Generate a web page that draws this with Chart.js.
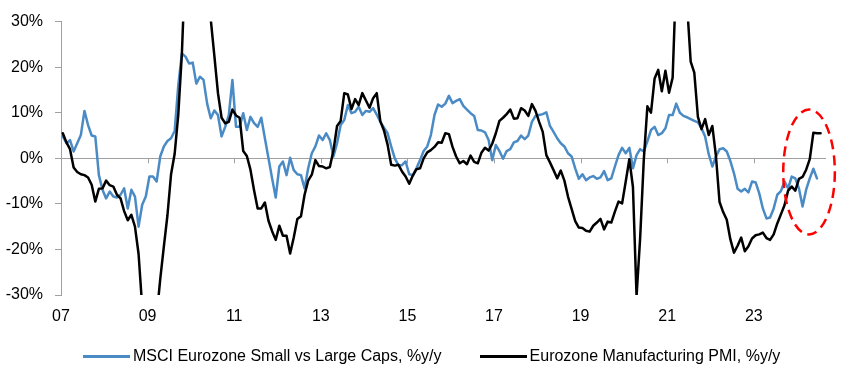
<!DOCTYPE html>
<html>
<head>
<meta charset="utf-8">
<script src="https://cdn.jsdelivr.net/npm/chart.js@4.4.1/dist/chart.umd.min.js"></script>
<style>
  html, body { margin: 0; padding: 0; background: #fff; }
  #wrap { position: relative; width: 852px; height: 389px; }
  #chart { display: block; }
  #legend { position: absolute; left: 83px; top: 345px; height: 22px; display: flex; align-items: center;
            font: 16px "Liberation Sans", Arial, sans-serif; color: #000; white-space: nowrap; }
  .item { display: flex; align-items: center; }
  .item + .item { margin-left: 38px; }
  .swatch { width: 47px; height: 3px; margin-right: 3px; }
</style>
</head>
<body>
<div id="wrap">
  <canvas id="chart" width="852" height="389"></canvas>
  <div id="legend"></div>
</div>
<script>
// monthly, Jan 2007 onwards (% y/y)
const seriesNames = ['MSCI Eurozone Small vs Large Caps, %y/y', 'Eurozone Manufacturing PMI, %y/y'];

const smallVsLarge = [
  4.8, 3.3, 4.0, 1.5, 3.3, 5.1, 10.4, 7.3, 5.0, 4.8, -3.7, -6.9,          // 2007
  -8.8, -7.3, -8.4, -8.6, -8, -6.6, -11, -6.9, -8.4, -15, -10.2, -8.4,    // 2008
  -4, -4, -5.1, 0.4, 2.6, 3.8, 4.4, 6, 16, 23, 22.3, 20.8,                // 2009
  21, 16.4, 17.9, 17.2, 12, 8.8, 10.5, 9.5, 4.8, 6.9, 9.5, 17.2,          // 2010
  6.9, 6.9, 9.9, 6.2, 9.1, 7.7, 6.9, 8.9, 4.4, 0, -4.4, -8.6,             // 2011
  -1.8, -0.7, -3.7, 0.1, -2.6, -3.5, -3.7, -6.6, -2.2, 1.1, 2.6, 5,       // 2012
  4, 5.5, 4, 0.4, 3.3, 7.3, 8.4, 11.7, 9.9, 10.2, 11.3, 9.5,              // 2013
  10.4, 10.2, 11, 9.6, 8, 6.7, 5.5, 2.6, 0, -1.5, -1.5, -0.7,             // 2014
  -3.5, -3.7, -2.2, -0.4, 1.6, 2.6, 5.1, 9.5, 11.8, 11.3, 12, 13.7,       // 2015
  12.1, 12.6, 13, 11.5, 10.7, 9.9, 9.3, 6.2, 6.1, 5.7, 4, -0.4,           // 2016
  2.9, 1.6, -0.1, 1.6, 2, 3.5, 3.8, 5, 4.2, 5, 8, 9.3,                    // 2017
  9.5, 9.7, 10.1, 7.1, 5.8, 4.4, 3.3, 2.6, 1.1, 0.4, -2.2, -4.5,          // 2018
  -3.5, -4.8, -4.2, -3.9, -4.5, -4.2, -2.8, -4.8, -4.4, -1.8, 0.7, 2.3,   // 2019
  1.1, 2.3, -2.2, 0.7, 2, 1.5, 3.7, 6.2, 6.9, 5.1, 5.5, 6.6,              // 2020
  9.5, 9.5, 12, 10, 9.3, 9, 8.6, 8.2, 7.9, 6.6, 4.8, 0.9,                 // 2021
  -1.8, 0.4, 2, 2.2, 1.5, -0.6, -3.3, -6.7, -7.3, -6.7, -7.5, -5.1,       // 2022
  -5.3, -7.7, -11, -13.2, -13, -11, -8, -7.2, -5.1, -6.6, -4, -4.4,       // 2023
  -6.6, -10.6, -6.9, -4.4, -2.3, -4.4                                     // 2024
];

const pmiYoY = [
  5.5, 3.5, 2.0, -2.0, -3.0, -3.5, -3.7, -4.2, -5.8, -9.5, -6.7, -6.6,           // 2007
  -4.9, -5.9, -6.2, -8, -8.8, -11.6, -13.6, -12.4, -15, -21, -32.6, -35.6,       // 2008
  -34.8, -36, -34.8, -26.5, -19.4, -12.5, -3.5, 1.0, 9.6, 23, 43.8, 52,          // 2009
  52, 62, 67, 56.5, 37, 30.5, 22.5, 14.3, 8.9, 7.7, 8, 10.7,                     // 2010
  9.4, 8.9, 1.6, 0.5, -2.5, -7, -11, -11, -9.7, -13.7, -16, -17.9,               // 2011
  -14.8, -17, -17, -20.9, -17.4, -13.3, -12.7, -8, -4.9, -3.6, -0.4, -1.7,       // 2012
  -1.8, -2.2, -1.9, 1.7, 7.1, 8.2, 14.3, 14, 10.8, 13, 11.7, 14.3,               // 2013
  12.7, 11.1, 13.2, 14.3, 8.1, 6.1, 3.0, -1.4, -1.6, -1.4, -2.9, -4.0,           // 2014
  -5.6, -3.8, -2.4, -2.2, 0, 1.3, 1.8, 2.5, 3.5, 3.4, 5.5, 5.3,                  // 2015
  2.5, 0.4, -1.1, -0.6, -1.3, 0.6, -0.8, -1.1, 1.2, 2.3, 1.7, 3.2,               // 2016
  5.5, 8.2, 8.9, 9.7, 10.7, 8.7, 8.8, 11, 10.5, 9.3, 11.9, 10.4,                 // 2017
  8, 5.8, 0.7, -0.9, -2.6, -4.4, -2.7, -4.9, -8.4, -11.1, -13.8, -15.2,          // 2018
  -15.3, -15.9, -16.1, -14.8, -14.1, -13.3, -15.6, -13.9, -14.1, -11.7, -9.5, -9.9, // 2019
  -5.1, -0.2, -6.3, -30.3, -17.4, -0.4, 11.4, 10, 17.5, 19.4, 14.7, 19.2,        // 2020
  14.4, 17.7, 40.4, 88, 60, 33.8, 21.2, 18.8, 9.1, 6.4, 8.6, 5.1,                // 2021
  7.1, 0.5, -9.6, -11.8, -13.5, -17.8, -20.7, -19.2, -17.4, -20.4, -19.3, -17.6, // 2022
  -16.9, -16.7, -16.3, -17.5, -17.9, -16.7, -14.3, -12.3, -10.3, -7.1, -6.2, -7.1, // 2023
  -4.5, -4.1, -2.5, -0.2, 5.6, 5.5, 5.5                                          // 2024
];

const tickMonths = [0, 24, 48, 72, 96, 120, 144, 168, 192];
const tickLabels = ['07', '09', '11', '13', '15', '17', '19', '21', '23'];

const BLUE = '#4a8bc6';
const BLACK = '#000000';
const GREY = '#a0a0a0';
const font = { family: '"Liberation Sans", Arial, sans-serif', size: 16 };

// each month sits in the middle of its slot on the month axis
const toPoints = arr => arr.map((v, i) => ({ x: i + 0.5, y: v }));

// small tick marks hanging off the zero line
const zeroTicks = {
  id: 'zeroTicks',
  beforeDatasetsDraw(c) {
    const { x, y } = c.scales;
    const y0 = y.getPixelForValue(0);
    const ctx = c.ctx;
    ctx.save();
    ctx.strokeStyle = GREY;
    ctx.lineWidth = 1;
    tickMonths.forEach(m => {
      const px = Math.round(x.getPixelForValue(m)) + 0.5;
      ctx.beginPath();
      ctx.moveTo(px, y0);
      ctx.lineTo(px, y0 + 5);
      ctx.stroke();
    });
    ctx.restore();
  }
};

// red dashed ring around the latest readings
const ring = { month: 207.3, value: -3, halfMonths: 7.15, halfRange: 13.7 };
const ringNote = {
  id: 'ringNote',
  afterDatasetsDraw(c) {
    const { x, y } = c.scales;
    const cx = x.getPixelForValue(ring.month);
    const cy = y.getPixelForValue(ring.value);
    const rx = x.getPixelForValue(ring.month + ring.halfMonths) - cx;
    const ry = y.getPixelForValue(ring.value - ring.halfRange) - cy;
    const ctx = c.ctx;
    ctx.save();
    ctx.strokeStyle = '#ff0000';
    ctx.lineWidth = 2.5;
    ctx.setLineDash([10, 6]);
    ctx.beginPath();
    ctx.ellipse(cx, cy, rx, ry, 0, 0, Math.PI * 2);
    ctx.stroke();
    ctx.restore();
  }
};

new Chart(document.getElementById('chart'), {
  type: 'line',
  data: {
    datasets: [
      { label: seriesNames[0], data: toPoints(smallVsLarge), borderColor: BLUE, order: 2 },
      { label: seriesNames[1], data: toPoints(pmiYoY), borderColor: BLACK, order: 1 }
    ]
  },
  options: {
    responsive: false,
    animation: false,
    elements: {
      point: { radius: 0 },
      line: { borderWidth: 2.5, tension: 0, borderJoinStyle: 'round', borderCapStyle: 'round' }
    },
    layout: { padding: { top: 21, right: 26, bottom: 59, left: 0 } },
    plugins: { legend: { display: false }, tooltip: { enabled: false } },
    scales: {
      x: {
        type: 'linear',
        min: 0,
        max: 212,
        border: { display: false },
        grid: { display: false, drawTicks: false },
        afterBuildTicks: s => { s.ticks = tickMonths.map(v => ({ value: v })); },
        ticks: {
          autoSkip: false,
          maxRotation: 0,
          padding: 12,
          color: '#000',
          font,
          callback: v => tickLabels[tickMonths.indexOf(v)]
        },
        afterFit: s => { s.height = 35; }
      },
      y: {
        min: -30,
        max: 30,
        border: { color: GREY, width: 1 },
        grid: {
          color: c => (c.tick && c.tick.value === 0 ? GREY : 'rgba(0,0,0,0)'),
          tickColor: GREY,
          tickLength: 6,
          lineWidth: 1
        },
        ticks: { stepSize: 10, padding: 12, color: '#000', font, callback: v => v + '%' },
        afterFit: s => { s.width = 61; }
      }
    }
  },
  plugins: [zeroTicks, ringNote]
});

// legend below the plot
const legend = document.getElementById('legend');
[[seriesNames[0], BLUE], [seriesNames[1], BLACK]].forEach(([name, col]) => {
  const item = document.createElement('div');
  item.className = 'item';
  const sw = document.createElement('span');
  sw.className = 'swatch';
  sw.style.background = col;
  const txt = document.createElement('span');
  txt.textContent = name;
  item.appendChild(sw);
  item.appendChild(txt);
  legend.appendChild(item);
});
</script>
</body>
</html>
